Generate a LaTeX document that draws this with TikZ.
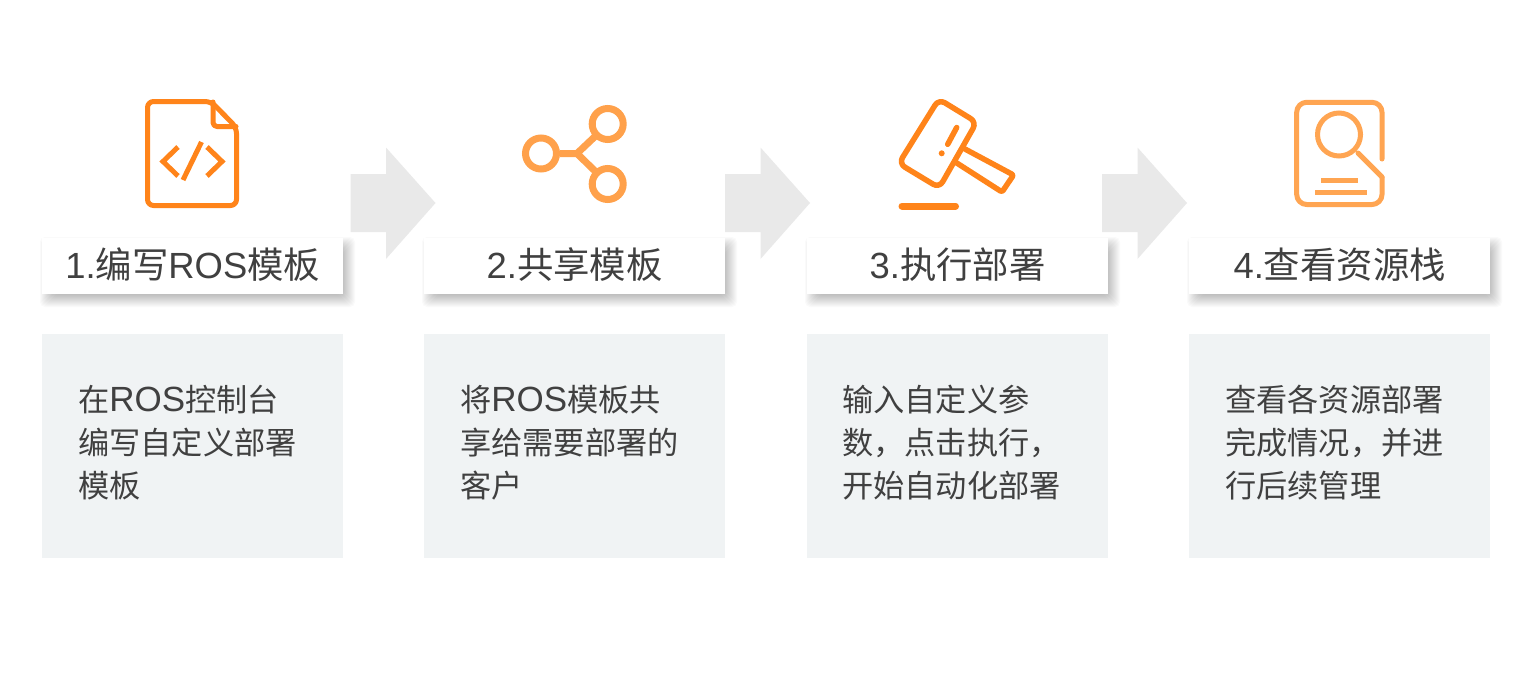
\documentclass[tikz,border=0pt]{standalone}
\usepackage{fontspec}
\setmainfont{Liberation Sans}
\newfontfamily\cjk{Noto Sans CJK SC}
\newcommand{\bodytext}{\fontsize{31.2}{43}\selectfont\cjk}
\newcommand{\headtext}{\fontsize{36.4}{42}\selectfont}
\newcommand{\lat}[1]{{\fontsize{35}{43}\selectfont\rmfamily #1}}
\newcommand{\firststrut}{\rule{0pt}{30pt}}
\definecolor{ink}{HTML}{404040}
\definecolor{panel}{HTML}{F0F3F4}
\definecolor{arrowgrey}{HTML}{E9E9E9}
\definecolor{orangeA}{HTML}{FF841A}
\definecolor{orangeB}{HTML}{FFA14B}
\definecolor{orangeC}{HTML}{FFA552}
\tikzset{
  bodybox/.style={fill=panel,draw=none,minimum width=301,minimum height=224,inner sep=0,anchor=north west},
  headbox/.style={fill=white,draw=none,minimum width=301,minimum height=56,inner sep=0,anchor=north west,text=ink,font=\headtext},
  bodylabel/.style={anchor=north west,align=left,inner sep=0,text=ink,font=\bodytext},
  flowarrow/.style={fill=arrowgrey,draw=none},
  iconline/.style={line width=#1,line cap=round,line join=round,fill=none},
}
\newcommand{\softshadow}[2]{%
  \foreach \k in {7,6,...,-7}{
    \fill[black,opacity=0.021,rounded corners=5] (#1+5-\k*1,238+6-\k*1) rectangle (#1+301+5+\k*1,#2+6+\k*1);
  }}
\newcommand{\headlift}[1]{\raisebox{-12pt}[0pt][0pt]{#1}}
\begin{document}
\begin{tikzpicture}[x=1pt,y=-1pt]
\useasboundingbox (0,0) rectangle (1531,688);
\fill[white] (0,0) rectangle (1531,688);

% arrows
\foreach \a in {350.5,725,1102}{
  \fill[flowarrow] (\a,174) -- (\a+35.5,174) -- (\a+35.5,147.5) -- (\a+85,203) -- (\a+35.5,259) -- (\a+35.5,232) -- (\a,232) -- cycle;
}

% heading shadows
\softshadow{42}{294}
\softshadow{424}{294}
\softshadow{807}{294}
\softshadow{1189}{294}

% heading boxes
\node[headbox] (h1) at (42,238) {\headlift{1.{\cjk 编写}ROS{\cjk 模板}}};
\node[headbox] (h2) at (424,238) {\headlift{2.{\cjk 共享模板}}};
\node[headbox] (h3) at (807,238) {\headlift{3.{\cjk 执行部署}}};
\node[headbox] (h4) at (1189,238) {\headlift{4.{\cjk 查看资源栈}}};

% body boxes
\node[bodybox] (b1) at (42,334) {};
\node[bodybox] (b2) at (424,334) {};
\node[bodybox] (b3) at (807,334) {};
\node[bodybox] (b4) at (1189,334) {};

\node[bodylabel] (t1) at (78,381.5) {\firststrut 在\lat{ROS}控制台\\编写自定义部署\\模板};
\node[bodylabel] (t2) at (460,381.5) {\firststrut 将\lat{ROS}模板共\\享给需要部署的\\客户};
\node[bodylabel] (t3) at (842,381.5) {\firststrut 输入自定义参\\数，点击执行，\\开始自动化部署};
\node[bodylabel] (t4) at (1225,381.5) {\firststrut 查看各资源部署\\完成情况，并进\\行后续管理};

% icon 1: document with code
\draw[orangeA,iconline=5,rounded corners=6] (211,101.5) -- (147.5,101.5) -- (147.5,205.5) -- (236.5,205.5) -- (236.5,127.5) -- cycle;
\draw[orangeA,iconline=5,rounded corners=4] (213,102) -- (213,126.5) -- (236,126.5);
\draw[orangeA,line width=5,line join=miter] (178,147) -- (163,161.5) -- (178,176);
\draw[orangeA,line width=5] (201.5,142) -- (183,180);
\draw[orangeA,line width=5,line join=miter] (207,147) -- (222,161.5) -- (207,176);

% icon 2: share
\draw[orangeB,line width=7] (607.7,124) circle[radius=15.5];
\draw[orangeB,line width=7] (541,153.5) circle[radius=15.5];
\draw[orangeB,line width=7] (607.7,184) circle[radius=15.5];
\draw[orangeB,line width=7,line join=round] (559.5,153.5) -- (577,153.5) -- (596,135.5);
\draw[orangeB,line width=7] (577,153.5) -- (596,172);

% icon 3: gavel
\draw[orangeA,iconline=5.5,rounded corners=7] (938.8,99.1) -- (976.6,122.2) -- (939.2,187.9) -- (898.8,163.5) -- cycle;
\draw[orangeA,iconline=5.5,rounded corners=2] (964,148.5) -- (1013.5,175) -- (1002,192) -- (956,162.5);
\draw[orangeA,iconline=5.5] (956.7,127.5) -- (947.7,144.3);
\fill[orangeA] (941.7,153.3) circle[radius=3];
\draw[orangeA,iconline=7] (902,206) -- (955.5,206);

% icon 4: report with magnifier
\draw[orangeC,iconline=5,rounded corners=10] (1382,159) -- (1382,102.3) -- (1296.7,102.3) -- (1296.7,204.5) -- (1382,204.5) -- (1382,177);
\draw[orangeC,iconline=5] (1382,177) -- (1358,153);
\draw[orangeC,line width=5] (1339,134.5) circle[radius=21.5];
\draw[orangeC,line width=5] (1321,180.7) -- (1358,180.7);
\draw[orangeC,line width=5] (1315,192.3) -- (1367,192.3);
\end{tikzpicture}
\end{document}
